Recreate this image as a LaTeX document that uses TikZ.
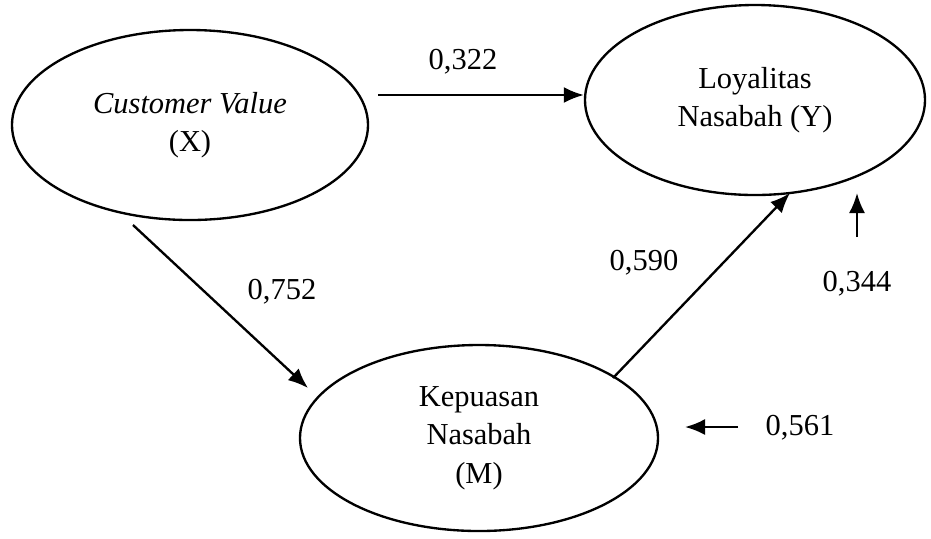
\documentclass[tikz,border=0pt]{standalone}
\usepackage{fontspec}
\setmainfont{Liberation Serif}
\usetikzlibrary{arrows.meta, shapes.geometric, positioning}

\tikzset{
  latent/.style={draw, ellipse, line width=1pt, inner sep=0pt, align=center,
                 font=\fontsize{13}{16.5}\selectfont},
  coef/.style={font=\fontsize{13}{16}\selectfont},
  path/.style={->, line width=1pt}
}

\begin{document}
\begin{tikzpicture}[>={Latex[length=3mm,width=2.4mm]}, x=0.015cm, y=-0.015cm]
    \useasboundingbox (0,0) rectangle (931,538);
    % constructs
    \node[latent, minimum width=5.34cm, minimum height=2.85cm] (X) at (190,125)
        {\textit{Customer Value}\\(X)};
    \node[latent, minimum width=5.1cm, minimum height=2.85cm] (Y) at (755,100)
        {Loyalitas\\Nasabah (Y)};
    \node[latent, minimum width=5.37cm, minimum height=2.79cm] (M) at (479,438)
        {Kepuasan\\Nasabah\\(M)};
    % coefficients
    \node[coef] (cXY) at (463,62) {0,322};
    \node[coef] (cXM) at (282,292) {0,752};
    \node[coef] (cMY) at (644,263) {0,590};
    \node[coef] (eY) at (857,284) {0,344};
    \node[coef] (eM) at (800,428) {0,561};
    % arrow ends
    \coordinate (xy0) at (378,95);
    \coordinate (xm0) at (133,225);
    \coordinate (xm1) at (308,388);
    \coordinate (my0) at (613,378);
    \coordinate (my1) at (790,193);
    \coordinate (ey0) at (857,237);
    \coordinate (ey1) at (857,193);
    \coordinate (em0) at (738,427);
    \coordinate (em1) at (685,427);
    \draw[path] (xy0) -- (xy0 -| Y.west);
    \draw[path] (xm0) -- (xm1);
    \draw[path] (my0) -- (my1);
    \draw[path] (ey0) -- (ey1);
    \draw[path] (em0) -- (em1);
\end{tikzpicture}
\end{document}
